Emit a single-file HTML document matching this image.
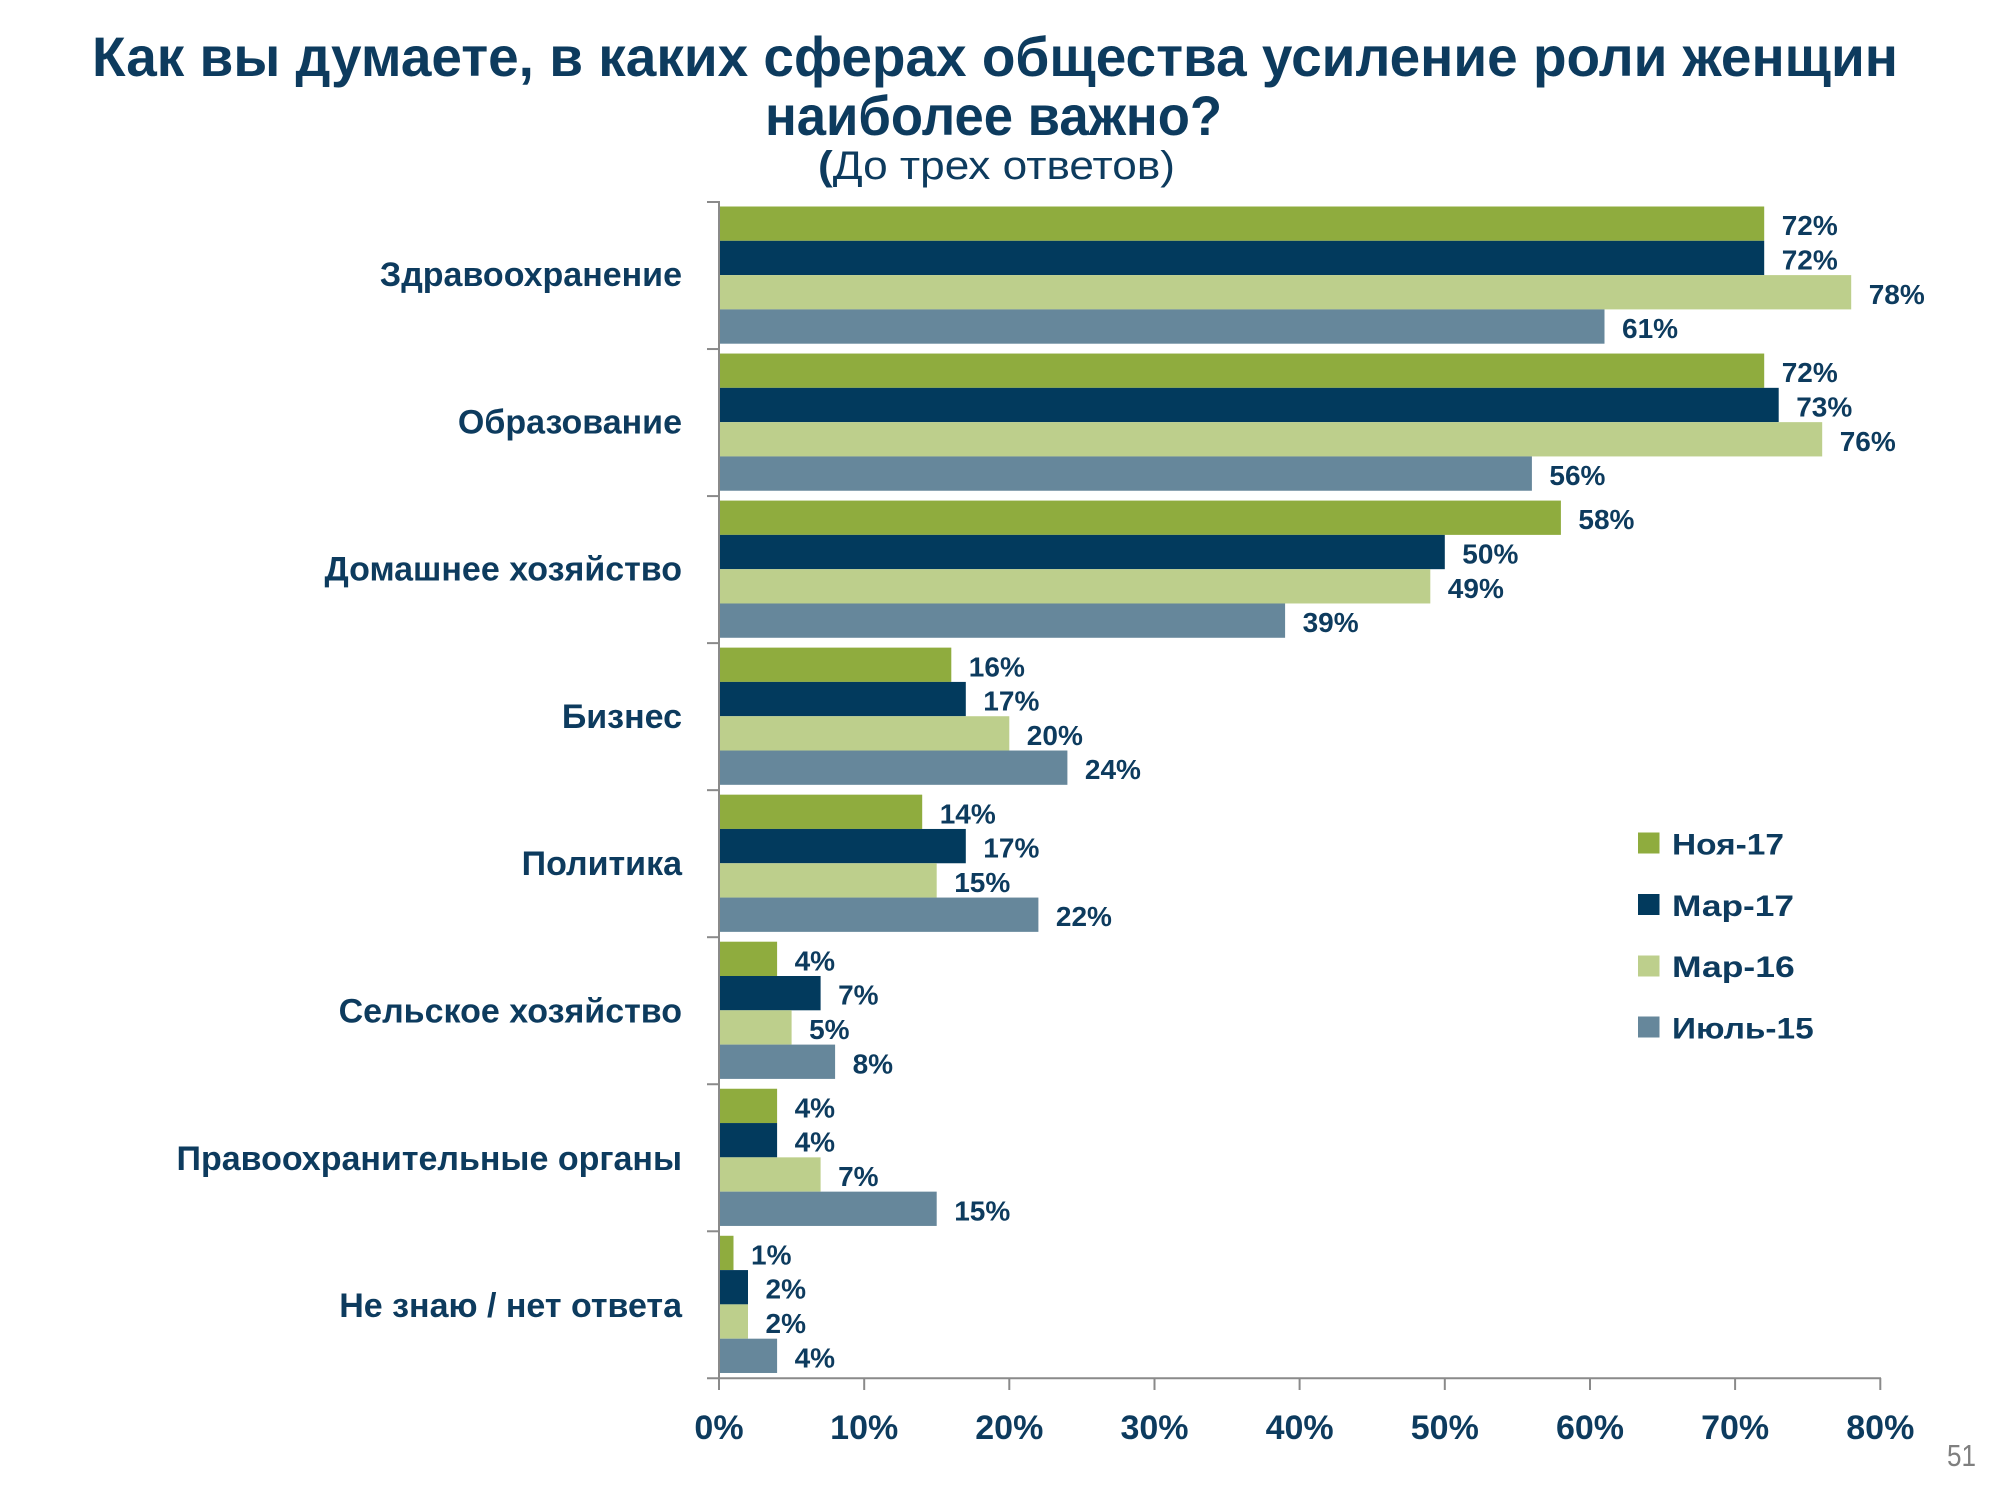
<!DOCTYPE html>
<html><head><meta charset="utf-8"><style>
html,body{margin:0;padding:0;background:#fff;}
svg{display:block;}
text{font-family:"Liberation Sans","DejaVu Sans",sans-serif;}
.t{fill:#0D3B5E;font-weight:bold;}
.v{fill:#0D3B5E;font-weight:bold;font-size:28px;}
.c{fill:#0D3B5E;font-weight:bold;font-size:34px;text-anchor:end;}
.x{fill:#0D3B5E;font-weight:bold;font-size:34px;text-anchor:middle;}
.l{fill:#0D3B5E;font-weight:bold;font-size:30px;}
.g{fill:#8FAC3E}.n{fill:#023A5D}.p{fill:#BDCF8C}.s{fill:#66879B}
</style></head><body>
<svg width="2000" height="1500" viewBox="0 0 2000 1500" xmlns="http://www.w3.org/2000/svg">
<rect width="2000" height="1500" fill="#fff"/>
<!-- title -->
<text class="t" x="92" y="76" font-size="56" textLength="1806" lengthAdjust="spacingAndGlyphs">Как вы думаете, в каких сферах общества усиление роли женщин</text>
<text class="t" x="765" y="135" font-size="56" textLength="457" lengthAdjust="spacingAndGlyphs">наиболее важно?</text>
<text x="818" y="179" font-size="40" fill="#0D3B5E" textLength="357" lengthAdjust="spacingAndGlyphs"><tspan font-weight="bold">(</tspan>До трех ответов)</text>

<!-- bars -->
<g>
<rect class="g" x="719" y="206.5" width="1045.2" height="34.3"/>
<rect class="n" x="719" y="240.8" width="1045.2" height="34.3"/>
<rect class="p" x="719" y="275.1" width="1132.2" height="34.3"/>
<rect class="s" x="719" y="309.4" width="885.5" height="34.3"/>

<rect class="g" x="719" y="353.54" width="1045.2" height="34.3"/>
<rect class="n" x="719" y="387.84" width="1059.7" height="34.3"/>
<rect class="p" x="719" y="422.14" width="1103.2" height="34.3"/>
<rect class="s" x="719" y="456.44" width="812.9" height="34.3"/>

<rect class="g" x="719" y="500.58" width="841.9" height="34.3"/>
<rect class="n" x="719" y="534.88" width="725.8" height="34.3"/>
<rect class="p" x="719" y="569.18" width="711.3" height="34.3"/>
<rect class="s" x="719" y="603.48" width="566.1" height="34.3"/>

<rect class="g" x="719" y="647.62" width="232.3" height="34.3"/>
<rect class="n" x="719" y="681.92" width="246.8" height="34.3"/>
<rect class="p" x="719" y="716.22" width="290.3" height="34.3"/>
<rect class="s" x="719" y="750.52" width="348.4" height="34.3"/>

<rect class="g" x="719" y="794.66" width="203.2" height="34.3"/>
<rect class="n" x="719" y="828.96" width="246.8" height="34.3"/>
<rect class="p" x="719" y="863.26" width="217.7" height="34.3"/>
<rect class="s" x="719" y="897.56" width="319.4" height="34.3"/>

<rect class="g" x="719" y="941.7" width="58.1" height="34.3"/>
<rect class="n" x="719" y="976.0" width="101.6" height="34.3"/>
<rect class="p" x="719" y="1010.3" width="72.6" height="34.3"/>
<rect class="s" x="719" y="1044.6" width="116.1" height="34.3"/>

<rect class="g" x="719" y="1088.74" width="58.1" height="34.3"/>
<rect class="n" x="719" y="1123.04" width="58.1" height="34.3"/>
<rect class="p" x="719" y="1157.34" width="101.6" height="34.3"/>
<rect class="s" x="719" y="1191.64" width="217.7" height="34.3"/>

<rect class="g" x="719" y="1235.78" width="14.5" height="34.3"/>
<rect class="n" x="719" y="1270.08" width="29.0" height="34.3"/>
<rect class="p" x="719" y="1304.38" width="29.0" height="34.3"/>
<rect class="s" x="719" y="1338.68" width="58.1" height="34.3"/>
</g>

<!-- value labels -->
<g>
<text class="v" x="1781.7" y="235.2">72%</text>
<text class="v" x="1781.7" y="269.5">72%</text>
<text class="v" x="1868.7" y="303.8">78%</text>
<text class="v" x="1622" y="338.1">61%</text>

<text class="v" x="1781.7" y="382.2">72%</text>
<text class="v" x="1796.2" y="416.5">73%</text>
<text class="v" x="1839.7" y="450.8">76%</text>
<text class="v" x="1549.4" y="485.1">56%</text>

<text class="v" x="1578.4" y="529.2">58%</text>
<text class="v" x="1462.3" y="563.5">50%</text>
<text class="v" x="1447.8" y="597.8">49%</text>
<text class="v" x="1302.6" y="632.1">39%</text>

<text class="v" x="968.8" y="676.3">16%</text>
<text class="v" x="983.3" y="710.6">17%</text>
<text class="v" x="1026.8" y="744.9">20%</text>
<text class="v" x="1084.9" y="779.2">24%</text>

<text class="v" x="939.7" y="823.3">14%</text>
<text class="v" x="983.3" y="857.6">17%</text>
<text class="v" x="954.2" y="891.9">15%</text>
<text class="v" x="1055.9" y="926.2">22%</text>

<text class="v" x="794.6" y="970.4">4%</text>
<text class="v" x="838.1" y="1004.7">7%</text>
<text class="v" x="809.1" y="1039.0">5%</text>
<text class="v" x="852.6" y="1073.3">8%</text>

<text class="v" x="794.6" y="1117.4">4%</text>
<text class="v" x="794.6" y="1151.7">4%</text>
<text class="v" x="838.1" y="1186.0">7%</text>
<text class="v" x="954.2" y="1220.3">15%</text>

<text class="v" x="751" y="1264.4">1%</text>
<text class="v" x="765.5" y="1298.7">2%</text>
<text class="v" x="765.5" y="1333.0">2%</text>
<text class="v" x="794.6" y="1367.3">4%</text>
</g>

<!-- axes -->
<g stroke="#8A8A8A" stroke-width="2" fill="none">
<line x1="719" y1="201" x2="719" y2="1379"/>
<line x1="707" y1="1378.3" x2="1881" y2="1378.3"/>
<line x1="707" y1="202" x2="719" y2="202"/>
<line x1="707" y1="349.04" x2="719" y2="349.04"/>
<line x1="707" y1="496.08" x2="719" y2="496.08"/>
<line x1="707" y1="643.12" x2="719" y2="643.12"/>
<line x1="707" y1="790.16" x2="719" y2="790.16"/>
<line x1="707" y1="937.2" x2="719" y2="937.2"/>
<line x1="707" y1="1084.24" x2="719" y2="1084.24"/>
<line x1="707" y1="1231.28" x2="719" y2="1231.28"/>
<line x1="719" y1="1378" x2="719" y2="1390"/>
<line x1="864.2" y1="1378" x2="864.2" y2="1390"/>
<line x1="1009.3" y1="1378" x2="1009.3" y2="1390"/>
<line x1="1154.5" y1="1378" x2="1154.5" y2="1390"/>
<line x1="1299.6" y1="1378" x2="1299.6" y2="1390"/>
<line x1="1444.8" y1="1378" x2="1444.8" y2="1390"/>
<line x1="1590" y1="1378" x2="1590" y2="1390"/>
<line x1="1735.1" y1="1378" x2="1735.1" y2="1390"/>
<line x1="1880.3" y1="1378" x2="1880.3" y2="1390"/>
</g>

<!-- x tick labels -->
<g>
<text class="x" x="719" y="1439">0%</text>
<text class="x" x="864.2" y="1439">10%</text>
<text class="x" x="1009.3" y="1439">20%</text>
<text class="x" x="1154.5" y="1439">30%</text>
<text class="x" x="1299.6" y="1439">40%</text>
<text class="x" x="1444.8" y="1439">50%</text>
<text class="x" x="1590" y="1439">60%</text>
<text class="x" x="1735.1" y="1439">70%</text>
<text class="x" x="1880.3" y="1439">80%</text>
</g>

<!-- category labels -->
<g>
<text class="c" x="682" y="286.0">Здравоохранение</text>
<text class="c" x="682" y="433.3">Образование</text>
<text class="c" x="682" y="580.6">Домашнее хозяйство</text>
<text class="c" x="682" y="727.9">Бизнес</text>
<text class="c" x="682" y="875.2">Политика</text>
<text class="c" x="682" y="1022.5">Сельское хозяйство</text>
<text class="c" x="682" y="1169.8">Правоохранительные органы</text>
<text class="c" x="682" y="1317.0">Не знаю / нет ответа</text>
</g>

<!-- legend -->
<g>
<rect class="g" x="1638" y="832.5" width="21.5" height="21"/>
<rect class="n" x="1638" y="894" width="21.5" height="21"/>
<rect class="p" x="1638" y="955.5" width="21.5" height="21"/>
<rect class="s" x="1638" y="1016.5" width="21.5" height="21"/>
<text class="l" x="1672" y="854.3" textLength="112" lengthAdjust="spacingAndGlyphs">Ноя-17</text>
<text class="l" x="1672" y="915.8" textLength="122" lengthAdjust="spacingAndGlyphs">Мар-17</text>
<text class="l" x="1672" y="977.2" textLength="122.7" lengthAdjust="spacingAndGlyphs">Мар-16</text>
<text class="l" x="1672" y="1038.5" textLength="141.7" lengthAdjust="spacingAndGlyphs">Июль-15</text>
</g>

<text x="1947" y="1466" font-size="31" fill="#7F7F7F" textLength="29" lengthAdjust="spacingAndGlyphs">51</text>
</svg>
</body></html>
